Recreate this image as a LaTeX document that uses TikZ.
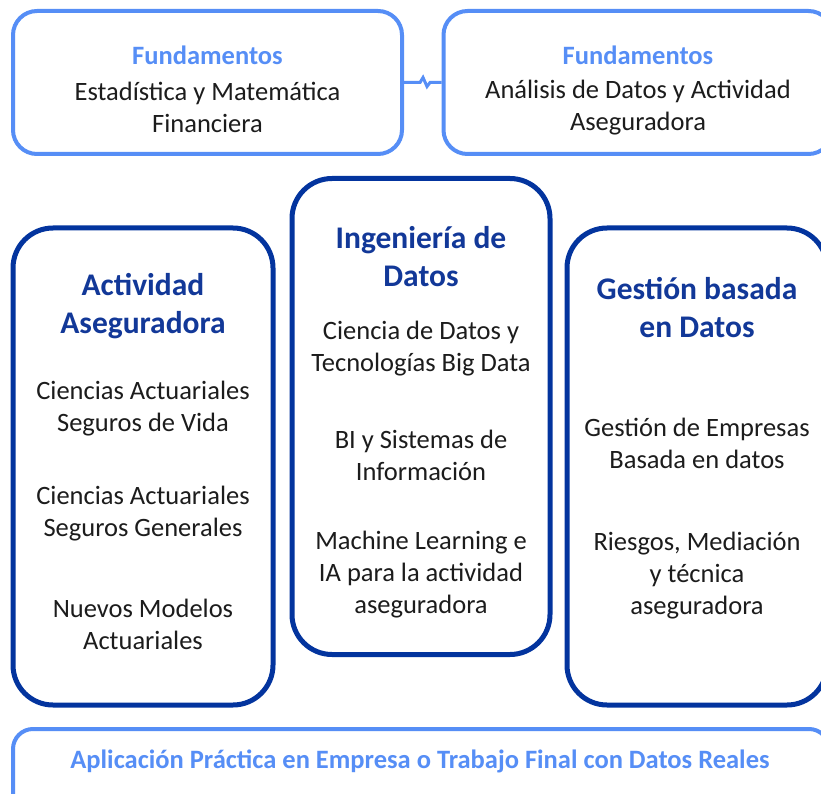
\documentclass[tikz,border=0pt]{standalone}
\usepackage{fontspec}
\setmainfont{Carlito}
\usepackage{tikz}
\usetikzlibrary{positioning}

\definecolor{lightblu}{RGB}{86,142,246}
\definecolor{darkblu}{RGB}{3,52,158}
\definecolor{titleblu}{RGB}{18,56,152}
\definecolor{bodytxt}{RGB}{28,28,28}

\tikzset{
  lightbox/.style={draw=lightblu, line width=4pt, rounded corners=24pt, fill=white},
  darkbox/.style={draw=darkblu, line width=5pt, rounded corners=40pt, fill=white},
  fundlabel/.style={font=\fontsize{26.5}{32}\selectfont\bfseries, text=lightblu, inner sep=0pt},
  bodytext/.style={font=\fontsize{26.5}{32}\selectfont, text=bodytxt, align=center, inner sep=0pt},
  titletext/.style={font=\fontsize{31.5}{38}\selectfont\bfseries, text=titleblu, align=center, inner sep=0pt}
}

\begin{document}
\begin{tikzpicture}[x=1pt,y=-1pt]
    \path[use as bounding box, clip] (0,0) rectangle (821,794);
    % TOP LEVEL
    \node (fundA) [lightbox, minimum width=389pt, minimum height=143pt] at (207.5,82.5) {};
    \node (fundB) [lightbox, minimum width=389pt, minimum height=143pt] at (638,82.5) {};
    \node (fundAhead) [fundlabel] at (207.5,55) {Fundamentos};
    \node (fundAtxt) [bodytext] at (207.5,107.5) {Estadística y Matemática\\Financiera};
    \node (fundBhead) [fundlabel] at (638,55) {Fundamentos};
    \node (fundBtxt) [bodytext] at (638,107.5) {Análisis de Datos y Actividad\\Aseguradora};
    % link between the two
    \draw[lightblu, line width=3pt] (fundA.east) -- ++(16,0) -- ++(3,-5) -- ++(4,9)
      -- ++(3,-4) -- (fundB.west);
    % SECOND LEVEL
    \node (activ) [darkbox, minimum width=260pt, minimum height=477pt] at (143,466.5) {};
    \node (inge) [darkbox, minimum width=258pt, minimum height=476pt] at (421,416.5) {};
    \node (gest) [darkbox, minimum width=260pt, minimum height=477pt] at (697,466.5) {};
    % titles
    \node (activtit) [titletext] at (143,306) {Actividad\\Aseguradora};
    \node (ingetit) [titletext] at (421,256.5) {Ingeniería de\\Datos};
    \node (gesttit) [titletext] at (697,308) {Gestión basada\\en Datos};
    % subjects
    \node (actA) [bodytext] at (143,408.5) {Ciencias Actuariales\\Seguros de Vida};
    \node (actB) [bodytext] at (143,514) {Ciencias Actuariales\\Seguros Generales};
    \node (actC) [bodytext] at (143,624) {Nuevos Modelos\\Actuariales};
    \node (ingA) [bodytext] at (421,349) {Ciencia de Datos y\\Tecnologías Big Data};
    \node (ingB) [bodytext] at (421,455.5) {BI y Sistemas de\\Información};
    \node (ingC) [bodytext] at (421,575) {Machine Learning e\\IA para la actividad\\aseguradora};
    \node (gesA) [bodytext] at (697,443) {Gestión de Empresas\\Basada en datos};
    \node (gesB) [bodytext] at (697,575.5) {Riesgos, Mediación\\y técnica\\aseguradora};
    % BOTTOM LEVEL
    \node (prac) [lightbox, rounded corners=20pt, minimum width=816pt, minimum height=90pt] at (421,774) {};
    \node (practxt) [fundlabel] at (420,761) {Aplicación Práctica en Empresa o Trabajo Final con Datos Reales};
\end{tikzpicture}
\end{document}
